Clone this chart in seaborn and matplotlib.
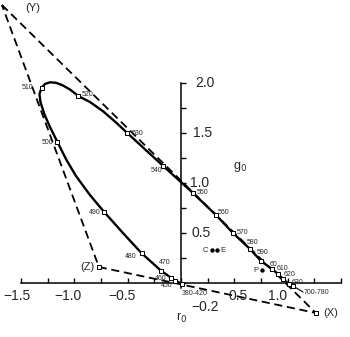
import matplotlib
matplotlib.use("Agg")
import matplotlib.pyplot as plt
import seaborn as sns
import numpy as np
import pandas as pd

# ---------------- data ----------------
# spectral locus trace (r0, g0)
locus_r = [0.005, -0.056, -0.094, -0.187, -0.368, -0.544, -0.722, -0.853, -0.984,
           -1.078, -1.159, -1.228, -1.279, -1.317, -1.326, -1.306, -1.275, -1.228,
           -1.171, -1.115, -1.040, -0.962, -0.853, -0.731, -0.619, -0.503,
           -0.337, -0.166, 0.112, 0.328, 0.487, 0.647, 0.750, 0.853, 0.909, 0.956,
           1.012, 1.050]
locus_g = [-0.005, 0.023, 0.053, 0.123, 0.297, 0.500, 0.713, 0.880, 1.070,
           1.240, 1.413, 1.560, 1.685, 1.810, 1.890, 1.953, 1.990, 2.007,
           2.002, 1.980, 1.935, 1.870, 1.810, 1.718, 1.615, 1.500,
           1.337, 1.170, 0.900, 0.680, 0.500, 0.340, 0.220, 0.140, 0.090, 0.040,
           -0.010, -0.030]

# marked wavelengths
wl_labels = ["380-420", "450", "460", "470", "480", "490", "500", "510", "520", "530",
             "540", "550", "560", "570", "580", "590", "60", "610", "620", "630", "700-780"]
wl_r = [0.005, -0.056, -0.094, -0.187, -0.368, -0.722, -1.159, -1.306, -0.962, -0.503,
        -0.166, 0.112, 0.328, 0.487, 0.647, 0.750, 0.853, 0.909, 0.956, 1.012, 1.050]
wl_g = [-0.005, 0.023, 0.053, 0.123, 0.297, 0.713, 1.413, 1.953, 1.870, 1.500,
        1.170, 0.900, 0.680, 0.500, 0.340, 0.220, 0.140, 0.090, 0.040, -0.010, -0.030]

# primaries X, Y, Z (triangle path Y -> X -> Z -> Y)
prim_names = ["(Y)", "(X)", "(Z)", "(Y)"]
prim_r = [-1.678, 1.265, -0.769, -1.678]
prim_g = [2.78, -0.30, 0.16, 2.78]

# white points / P
pts_names = ["C", "E", "P"]
pts_r = [0.295, 0.342, 0.755]
pts_g = [0.33, 0.33, 0.13]

# axis tick labels
xtick_vals = [-1.5, -1.0, -0.5, 0.5, 1.0]
xtick_text = ["\u22121.5", "\u22121.0", "\u22120.5", "0.5", "1.0"]
ytick_vals = [2.0, 1.5, 1.0, 0.5]
ytick_text = ["2.0", "1.5", "1.0", "0.5"]

# ---------------- styling / layout ----------------
PX = 0.72  # pixel -> points at 100 dpi
wl_offsets = {  # label offsets in pixels (dx right, dy up), alignment
    "380-420": (0, -10, "left"), "450": (-8, -5, "center"), "460": (-10, -1, "center"),
    "470": (3.5, 8, "center"), "480": (-5, -3, "right"), "490": (-3, -1, "right"),
    "500": (-4, -1, "right"), "510": (-8, 0, "right"), "520": (3, 2, "left"),
    "530": (4, 0, "left"), "540": (-6.5, -4, "center"), "550": (4, 0, "left"),
    "560": (2, 3, "left"), "570": (4, 1, "left"), "580": (-3, 7, "left"),
    "590": (-4, 8, "left"), "60": (-2, 5, "left"), "610": (-1, 5, "left"),
    "620": (1, 4, "left"), "630": (3, 1, "left"), "700-780": (11, -7, "left"),
}

sns.set_style("white")
plt.rcParams["font.family"] = ["Liberation Sans", "DejaVu Sans"]

fig = plt.figure(figsize=(3.5, 3.37), dpi=100)
ax = fig.add_axes([0, 0, 1, 1])
ax.set_xlim(-1.696, 1.584)
ax.set_ylim(-0.54, 2.83)

# axes through origin
for s in ["top", "right"]:
    ax.spines[s].set_visible(False)
ax.spines["left"].set_position(("data", 0))
ax.spines["bottom"].set_position(("data", 0))
ax.spines["left"].set_bounds(-0.05, 2.0)
ax.spines["bottom"].set_bounds(-1.5, 1.5)
for s in ["left", "bottom"]:
    ax.spines[s].set_linewidth(1.1)
    ax.spines[s].set_color("black")
ax.set_xticks(np.arange(-1.5, 1.51, 0.25))
ax.set_yticks(np.arange(0, 2.01, 0.25))
ax.set_xticklabels([])
ax.set_yticklabels([])
ax.tick_params(axis="both", direction="in", length=3.5, width=1.0, color="black",
               bottom=True, left=True, top=False, right=False)

# triangle of primaries
tri = pd.DataFrame({"r": prim_r, "g": prim_g})
sns.lineplot(data=tri, x="r", y="g", sort=False, estimator=None, ax=ax,
             color="black", lw=1.3, linestyle=(0, (4.5, 2.6)), zorder=2)

# spectral locus
loc = pd.DataFrame({"r": locus_r, "g": locus_g})
sns.lineplot(data=loc, x="r", y="g", sort=False, estimator=None, ax=ax,
             color="black", lw=1.7, zorder=3, solid_joinstyle="round",
             solid_capstyle="round")

# wavelength markers
wl = pd.DataFrame({"r": wl_r, "g": wl_g, "lab": wl_labels})
sns.scatterplot(data=wl, x="r", y="g", ax=ax, marker="s", s=9, facecolor="white",
                edgecolor="black", linewidth=0.7, zorder=4)
for lab, r, g in zip(wl_labels, wl_r, wl_g):
    dx, dy, ha = wl_offsets[lab]
    ax.annotate(lab, (r, g), xytext=(dx * PX, dy * PX), textcoords="offset points",
                ha=ha, va="center", fontsize=5, zorder=5)
# leader for 700-780
ax.annotate("", (wl_r[-1], wl_g[-1]), xytext=(10 * PX, -6 * PX), textcoords="offset points",
            arrowprops=dict(arrowstyle="-", lw=0.8, color="black", shrinkA=0, shrinkB=0))

# primary corner markers and labels
prim = pd.DataFrame({"r": prim_r[1:3], "g": prim_g[1:3]})
sns.scatterplot(data=prim, x="r", y="g", ax=ax, marker="s", s=9, facecolor="white",
                edgecolor="black", linewidth=0.7, zorder=4)
ax.annotate("(Y)", (prim_r[0], prim_g[0]), xytext=(31 * PX, -3 * PX), textcoords="offset points",
            ha="center", va="center", fontsize=8)
ax.annotate("(X)", (prim_r[1], prim_g[1]), xytext=(7 * PX, 0), textcoords="offset points",
            ha="left", va="center", fontsize=8)
ax.annotate("(Z)", (prim_r[2], prim_g[2]), xytext=(-4 * PX, 0), textcoords="offset points",
            ha="right", va="center", fontsize=8)

# C, E, P points
pts = pd.DataFrame({"r": pts_r, "g": pts_g})
sns.scatterplot(data=pts, x="r", y="g", ax=ax, marker="o", s=10, color="black",
                edgecolor="black", linewidth=0, zorder=4)
ax.annotate("C", (pts_r[0], pts_g[0]), xytext=(-4 * PX, 0), textcoords="offset points",
            ha="right", va="center", fontsize=5.5)
ax.annotate("E", (pts_r[1], pts_g[1]), xytext=(3 * PX, 0), textcoords="offset points",
            ha="left", va="center", fontsize=5.5)
ax.annotate("P", (pts_r[2], pts_g[2]), xytext=(-3 * PX, 0), textcoords="offset points",
            ha="right", va="center", fontsize=5.5)

# tick labels
xtick_dx = [-4, -6, -6, 4, -10]  # pixel nudges
for v, t, d in zip(xtick_vals, xtick_text, xtick_dx):
    ax.annotate(t, (v, 0), xytext=(d * PX, -13 * PX), textcoords="offset points",
                ha="center", va="center", fontsize=10)
ytick_dx = [14, 12, 9, 11]
for v, t, d in zip(ytick_vals, ytick_text, ytick_dx):
    ax.annotate(t, (0, v), xytext=(d * PX, 0), textcoords="offset points",
                ha="left", va="center", fontsize=10)
ax.annotate("\u22120.2", (0, 0), xytext=(24 * PX, -24 * PX), textcoords="offset points",
            ha="center", va="center", fontsize=10)

# axis names
ax.text(0.01, -0.35, r"r$_0$", ha="center", va="center", fontsize=9)
ax.text(0.553, 1.16, r"g$_0$", ha="center", va="center", fontsize=9)

ax.set_xlabel("")
ax.set_ylabel("")
fig.savefig("out.png", dpi=100)
